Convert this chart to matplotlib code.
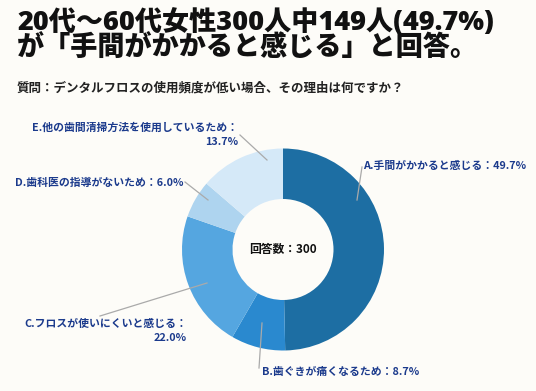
import matplotlib.pyplot as plt

plt.rcParams['font.family'] = ['Noto Sans CJK JP', 'DejaVu Sans']

# data
labels = ['A.手間がかかると感じる', 'B.歯ぐきが痛くなるため', 'C.フロスが使いにくいと感じる',
          'D.歯科医の指導がないため', 'E.他の歯間清掃方法を使用しているため']
shares = [49.7, 8.7, 22.0, 6.0, 13.7]
colours = ['#1d6ea3', '#2a89cf', '#55a6e0', '#aed4ef', '#d5e9f8']
total = 300

title = '20代～60代女性300人中149人(49.7%)\nが「手間がかかると感じる」と回答。'
question = '質問：デンタルフロスの使用頻度が低い場合、その理由は何ですか？'

W, H = 536, 391
bg = '#fdfcf8'
navy = '#1b3a8c'

fig = plt.figure(figsize=(W / 100, H / 100), dpi=100, facecolor=bg)
ax = fig.add_axes([0, 0, 1, 1])
ax.set_facecolor(bg)

# pixel coords with y measured from the top
def py(y):
    return H - y

cx, cy, R = 283, 249.5, 101
ax.pie(shares, colors=colours, startangle=90, counterclock=False,
       center=(cx, py(cy)), radius=R,
       wedgeprops=dict(width=R * 0.5, edgecolor='none'))
ax.set_xlim(0, W)
ax.set_ylim(0, H)
ax.set_aspect('auto')
ax.axis('off')

ax.text(cx, py(cy), f'回答数：{total}', ha='center', va='center',
        fontsize=8.5, fontweight='bold', color='#111111')

# labels: (text, x, y, ha), leader line (x0, y0, x1, y1)
lab_pos = [
    (f'{labels[0]}：{shares[0]}%', 363, 166, 'left', (357, 200, 362, 167)),
    (f'{labels[1]}：{shares[1]}%', 262, 372, 'left', (262, 323, 259, 368)),
    (f'{labels[2]}：\n{shares[2]}%', 187, 331, 'right', (207, 283, 100, 316)),
    (f'{labels[3]}：{shares[3]}%', 183, 183, 'right', (208, 200, 185, 182)),
    (f'{labels[4]}：\n{shares[4]}%', 238, 134.5, 'right', (267, 160, 240, 135)),
]
for txt, x, y, ha, (x0, y0, x1, y1) in lab_pos:
    ax.plot([x0, x1], [py(y0), py(y1)], color='#aaaaaa', lw=0.9)
    ax.text(x, py(y), txt, ha=ha, va='center', fontsize=7.8,
            fontweight='bold', color=navy, linespacing=1.5,
            multialignment='right')

fig.text(17 / W, py(35) / H, title, ha='left', va='center',
         family=['Open Sans', 'Noto Sans CJK JP'],
         fontsize=19.5, fontweight='heavy', color='#111111', linespacing=0.93)
fig.text(17 / W, py(88) / H, question, ha='left', va='center',
         fontsize=9, fontweight='bold', color='#222222')

fig.savefig('out.png', dpi=100, facecolor=bg)
